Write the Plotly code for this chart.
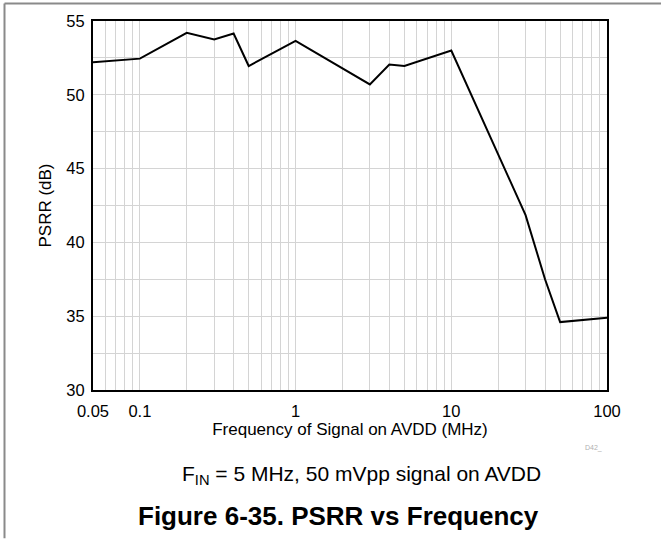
import plotly.graph_objects as go

freq_mhz = [0.05, 0.1, 0.2, 0.3, 0.4, 0.5, 1, 2, 3, 4, 5, 10, 20, 30, 40, 50, 100]
psrr_db = [52.2, 52.45, 54.2, 53.75, 54.15, 51.95, 53.65, 51.8, 50.7, 52.05, 51.95, 53.0, 46.0, 41.85, 37.5, 34.6, 34.9]

x_tick_vals = [0.05, 0.1, 1, 10, 100]
x_tick_text = ["0.05", "0.1", "1", "10", "100"]
x_minor_vals = [0.06, 0.07, 0.08, 0.09,
                0.2, 0.3, 0.4, 0.5, 0.6, 0.7, 0.8, 0.9,
                2, 3, 4, 5, 6, 7, 8, 9,
                20, 30, 40, 50, 60, 70, 80, 90]
y_tick_vals = [30, 35, 40, 45, 50, 55]

FONT = "Liberation Sans, Arial, sans-serif"
GRID = "#d4d4d4"

W, H = 661, 539
L, R, T, B = 93, 607, 19, 390

fig = go.Figure()
fig.add_trace(go.Scatter(
    x=freq_mhz, y=psrr_db, mode="lines",
    line=dict(color="black", width=2),
    showlegend=False, hoverinfo="skip",
))

fig.update_layout(
    width=W, height=H, autosize=False,
    margin=dict(l=L, r=W - R, t=T, b=H - B, pad=0),
    paper_bgcolor="white", plot_bgcolor="white",
    font=dict(family=FONT, size=16, color="black"),
    xaxis=dict(
        type="log", range=[-1.30103, 2],
        tickmode="array", tickvals=x_tick_vals, ticktext=x_tick_text,
        showgrid=True, gridcolor=GRID, gridwidth=1,
        minor=dict(tickmode="array", tickvals=x_minor_vals, showgrid=True,
                   gridcolor=GRID, gridwidth=1, ticks=""),
        showline=True, linecolor="black", linewidth=2, mirror=True,
        ticks="", zeroline=False, ticklabelstandoff=5,
        tickfont=dict(size=16.5),
        title=dict(text="Frequency of Signal on AVDD (MHz)", font=dict(size=17), standoff=3),
    ),
    yaxis=dict(
        range=[30, 55], tickmode="array", tickvals=y_tick_vals,
        showgrid=True, gridcolor=GRID, gridwidth=1,
        minor=dict(dtick=2.5, showgrid=True, gridcolor=GRID, gridwidth=1, ticks=""),
        showline=True, linecolor="black", linewidth=2, mirror=True,
        ticks="", zeroline=False, ticklabelstandoff=3,
        tickfont=dict(size=16.5),
        title=dict(text="PSRR (dB)", font=dict(size=17), standoff=10),
    ),
)

def px_x(px):
    return (px - L) / (R - L)

def px_y(py):
    return (B - py) / (B - T)

# outer frame (top and left gray rules)
fig.add_shape(type="line", xref="paper", yref="paper",
              x0=px_x(4.5), x1=px_x(661), y0=px_y(1.5), y1=px_y(1.5),
              line=dict(color="#8a8a8a", width=2))
fig.add_shape(type="line", xref="paper", yref="paper",
              x0=px_x(4.5), x1=px_x(4.5), y0=px_y(1.5), y1=px_y(539),
              line=dict(color="#8a8a8a", width=2))

fig.add_annotation(text="D42_", xref="paper", yref="paper",
                   x=px_x(593), y=px_y(448), xanchor="center", yanchor="middle",
                   showarrow=False, font=dict(size=7, color="#b0b0b0"))
fig.add_annotation(text="F<sub>IN</sub> = 5 MHz, 50 mVpp signal on AVDD", xref="paper", yref="paper",
                   x=px_x(361), y=px_y(475), xanchor="center", yanchor="middle",
                   showarrow=False, font=dict(size=21, color="black"))
fig.add_annotation(text="<b>Figure 6-35. PSRR vs Frequency</b>", xref="paper", yref="paper",
                   x=px_x(338), y=px_y(517), xanchor="center", yanchor="middle",
                   showarrow=False, font=dict(size=26, color="black"))

fig.write_html("out.html", config={"displayModeBar": False},
               post_script="document.body.style.margin='0px';")
